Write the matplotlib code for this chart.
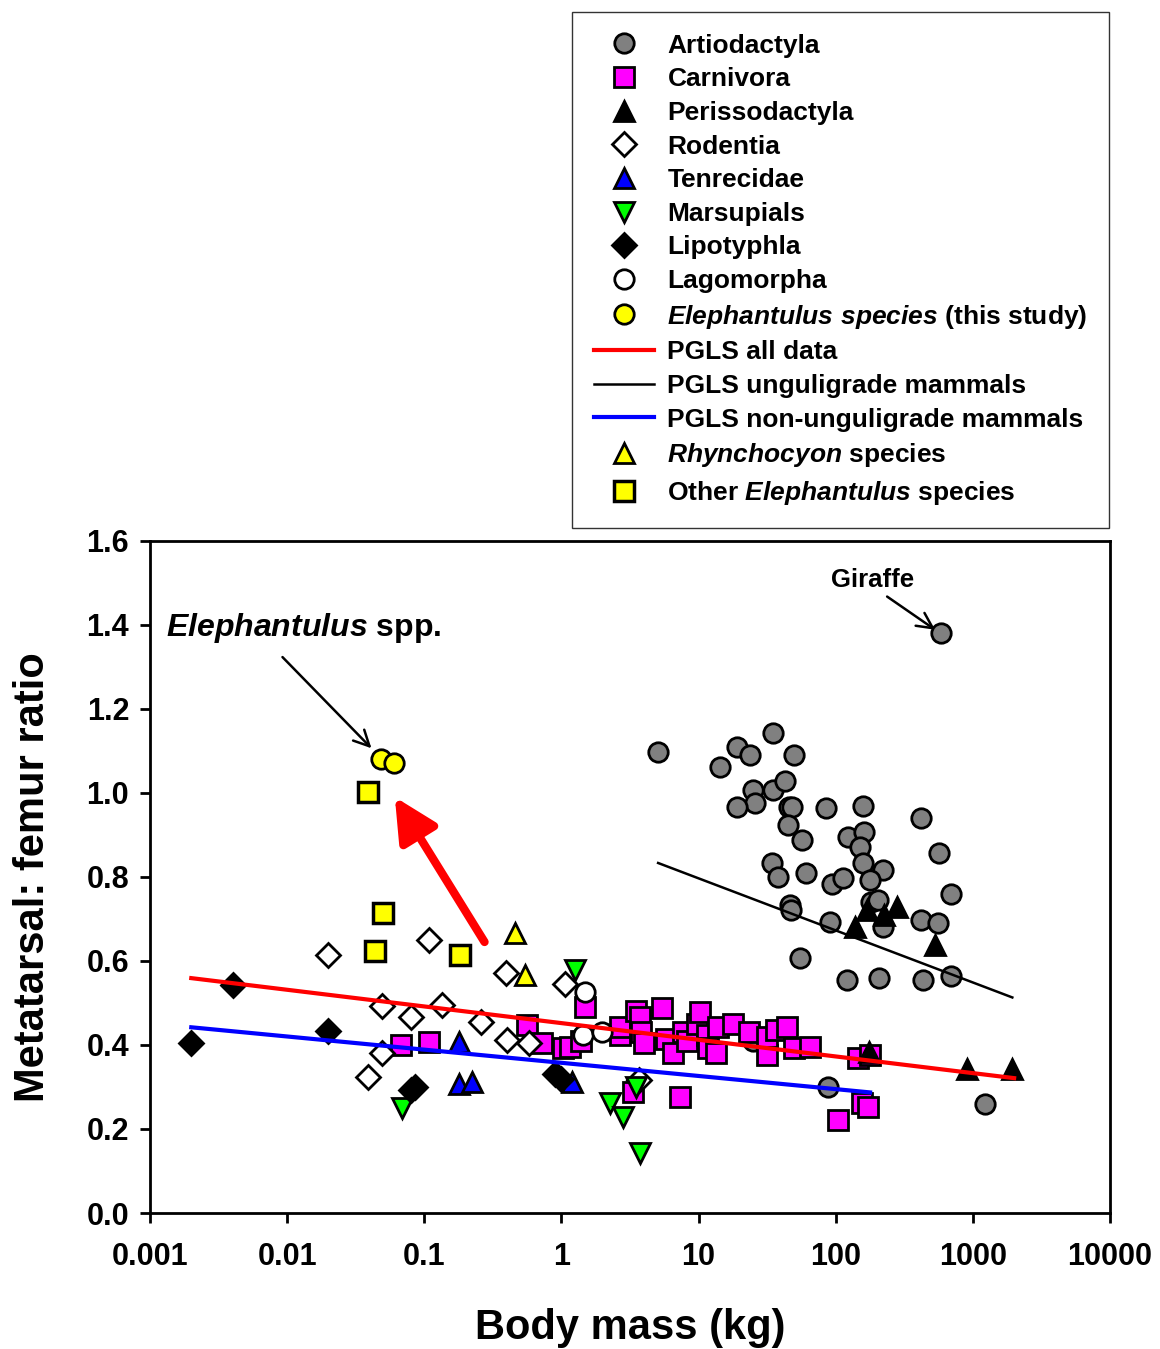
import numpy as np
import matplotlib
matplotlib.use('Agg')
import matplotlib.pyplot as plt
from matplotlib.lines import Line2D
from matplotlib.ticker import FixedLocator, FixedFormatter, NullLocator

plt.rcParams['font.family'] = ['Liberation Sans', 'DejaVu Sans']
plt.rcParams['font.weight'] = 'bold'
plt.rcParams['mathtext.fontset'] = 'custom'
plt.rcParams['mathtext.it'] = 'Liberation Sans:italic:bold'
plt.rcParams['mathtext.rm'] = 'Liberation Sans:bold'

# body mass (kg) and metatarsal:femur ratio
artio_x = [5.1, 14.3, 19, 23.7, 35, 50, 25, 26, 19, 35, 43, 46, 48, 45, 57, 85,
           159, 123, 162, 151, 159, 222, 178, 417, 566, 693, 34.5, 38, 61, 94,
           113, 46.6, 47, 91, 182, 204, 222, 417, 554, 55, 120, 208, 434, 697,
           588, 88, 1230, 25]
artio_y = [1.097, 1.062, 1.110, 1.090, 1.142, 1.090, 1.007, 0.975, 0.966, 1.007,
           1.028, 0.966, 0.966, 0.923, 0.887, 0.963, 0.968, 0.895, 0.906, 0.870,
           0.832, 0.816, 0.792, 0.939, 0.856, 0.759, 0.833, 0.800, 0.808, 0.784,
           0.797, 0.733, 0.72, 0.692, 0.740, 0.745, 0.680, 0.697, 0.690, 0.608,
           0.554, 0.559, 0.554, 0.563, 1.381, 0.299, 0.259, 0.41]

carn_x = [0.068, 0.109, 0.56, 0.72, 1.02, 1.15, 1.4, 1.48, 2.68, 2.68, 3.3, 3.5,
          3.76, 3.8, 4.0, 5.4, 5.8, 6.5, 7.3, 7.7, 8.2, 9.8, 10.2, 11.5, 11.7,
          13.5, 13.8, 17.7, 23.5, 31.7, 31.7, 37, 44, 50, 65, 104, 145, 156,
          173, 178]
carn_y = [0.399, 0.407, 0.447, 0.404, 0.392, 0.395, 0.41, 0.49, 0.423, 0.442,
          0.287, 0.48, 0.467, 0.43, 0.404, 0.487, 0.415, 0.38, 0.275, 0.43, 0.41,
          0.45, 0.478, 0.423, 0.392, 0.38, 0.442, 0.45, 0.43, 0.375, 0.418, 0.435,
          0.442, 0.392, 0.395, 0.221, 0.368, 0.261, 0.252, 0.375]

periss_x = [138, 170, 226, 280, 531, 175, 900, 1940]
periss_y = [0.680, 0.720, 0.709, 0.728, 0.637, 0.382, 0.342, 0.342]

rod_x = [0.020, 0.109, 0.049, 0.080, 0.135, 0.258, 0.393, 0.40, 0.585, 1.07,
         0.049, 0.039, 3.7]
rod_y = [0.614, 0.649, 0.492, 0.466, 0.494, 0.454, 0.571, 0.411, 0.404, 0.544,
         0.380, 0.323, 0.316]

tenrec_x = [0.18, 0.178, 0.221, 1.2]
tenrec_y = [0.407, 0.306, 0.311, 0.311]

marsup_x = [0.069, 1.25, 2.26, 2.8, 3.73, 3.5]
marsup_y = [0.251, 0.578, 0.263, 0.228, 0.144, 0.299]

lipo_x = [0.002, 0.004, 0.02, 0.08, 0.085, 0.9, 1.0]
lipo_y = [0.404, 0.542, 0.433, 0.292, 0.30, 0.33, 0.32]

lago_x = [1.48, 1.43, 1.98]
lago_y = [0.525, 0.423, 0.431]

eleph_x = [0.048, 0.060]
eleph_y = [1.080, 1.071]

rhyn_x = [0.457, 0.54]
rhyn_y = [0.666, 0.566]

other_x = [0.0386, 0.0496, 0.044, 0.181]
other_y = [1.001, 0.713, 0.623, 0.614]

# PGLS fits (end points)
pgls_all_x = [0.002, 2000]
pgls_all_y = [0.559, 0.321]
pgls_ung_x = [5.07, 1940]
pgls_ung_y = [0.833, 0.513]
pgls_non_x = [0.002, 178]
pgls_non_y = [0.442, 0.287]

xticks = [0.001, 0.01, 0.1, 1, 10, 100, 1000, 10000]
xticklabels = ['0.001', '0.01', '0.1', '1', '10', '100', '1000', '10000']
yticks = [0.0, 0.2, 0.4, 0.6, 0.8, 1.0, 1.2, 1.4, 1.6]

fig = plt.figure(figsize=(11.6, 13.49), dpi=100)
ax = fig.add_axes([0.1293, 0.1008, 0.8276, 0.4984])

ms = 14
mew = 2
groups = [
    (artio_x, artio_y, 'o', '#808080', 'Artiodactyla'),
    (carn_x, carn_y, 's', '#ff00ff', 'Carnivora'),
    (periss_x, periss_y, '^', 'black', 'Perissodactyla'),
    (rod_x, rod_y, 'D', 'white', 'Rodentia'),
    (tenrec_x, tenrec_y, '^', '#0000ff', 'Tenrecidae'),
    (marsup_x, marsup_y, 'v', '#00ff00', 'Marsupials'),
    (lipo_x, lipo_y, 'D', 'black', 'Lipotyphla'),
    (lago_x, lago_y, 'o', 'white', 'Lagomorpha'),
    (eleph_x, eleph_y, 'o', '#ffff00', r'$\it{Elephantulus\ species}$ (this study)'),
]
handles = []
for gx, gy, mk, fc, lab in groups:
    size = ms * 0.85 if mk == 'D' else ms
    ax.plot(gx, gy, linestyle='none', marker=mk, markersize=size,
            markerfacecolor=fc, markeredgecolor='black', markeredgewidth=mew, zorder=3)
    handles.append(Line2D([], [], linestyle='none', marker=mk, markersize=size,
                          markerfacecolor=fc, markeredgecolor='black',
                          markeredgewidth=mew, label=lab))

ax.plot(rhyn_x, rhyn_y, linestyle='none', marker='^', markersize=ms,
        markerfacecolor='#ffff00', markeredgecolor='black', markeredgewidth=mew, zorder=3)
ax.plot(other_x, other_y, linestyle='none', marker='s', markersize=ms,
        markerfacecolor='#ffff00', markeredgecolor='black', markeredgewidth=mew + 0.5, zorder=3)

ax.plot(pgls_all_x, pgls_all_y, color='red', lw=3, zorder=4)
ax.plot(pgls_ung_x, pgls_ung_y, color='black', lw=1.8, zorder=4)
ax.plot(pgls_non_x, pgls_non_y, color='#0000ff', lw=3, zorder=4)

handles.append(Line2D([], [], color='red', lw=3, label='PGLS all data'))
handles.append(Line2D([], [], color='black', lw=1.8, label='PGLS unguligrade mammals'))
handles.append(Line2D([], [], color='#0000ff', lw=3, label='PGLS non-unguligrade mammals'))
handles.append(Line2D([], [], linestyle='none', marker='^', markersize=ms,
                      markerfacecolor='#ffff00', markeredgecolor='black',
                      markeredgewidth=mew, label=r'$\it{Rhynchocyon}$ species'))
handles.append(Line2D([], [], linestyle='none', marker='s', markersize=ms,
                      markerfacecolor='#ffff00', markeredgecolor='black',
                      markeredgewidth=mew + 0.5, label=r'Other $\it{Elephantulus}$ species'))

# annotations
ax.annotate('', xy=(0.061, 0.99), xytext=(0.275, 0.645),
            arrowprops=dict(arrowstyle='-|>', color='red', lw=6, mutation_scale=65,
                            shrinkA=0, shrinkB=0), zorder=5)
ax.annotate('', xy=(0.0412, 1.106), xytext=(0.00925, 1.323),
            arrowprops=dict(arrowstyle='->', color='black', lw=1.8, mutation_scale=28,
                            shrinkA=0, shrinkB=0), zorder=5)
ax.text(0.00131, 1.392, r'$\it{Elephantulus}$ spp.', fontsize=23, fontweight='bold',
        ha='left', va='center')
ax.annotate('', xy=(531, 1.388), xytext=(237, 1.467),
            arrowprops=dict(arrowstyle='->', color='black', lw=1.8, mutation_scale=28,
                            shrinkA=0, shrinkB=0), zorder=5)
ax.text(187, 1.506, 'Giraffe', fontsize=18.5, fontweight='bold', ha='center', va='center')

ax.set_xscale('log')
ax.set_xlim(0.001, 10000)
ax.set_ylim(0, 1.6)
ax.xaxis.set_major_locator(FixedLocator(xticks))
ax.xaxis.set_major_formatter(FixedFormatter(xticklabels))
ax.xaxis.set_minor_locator(NullLocator())
ax.set_yticks(yticks)
ax.set_yticklabels([f'{v:.1f}' for v in yticks])
ax.tick_params(axis='both', which='major', direction='out', length=7, width=2,
               labelsize=22, pad=8)
ax.tick_params(axis='x', pad=14)
for sp in ax.spines.values():
    sp.set_linewidth(2)
ax.set_xlabel('Body mass (kg)', fontsize=30, fontweight='bold', labelpad=26)
ax.set_ylabel('Metatarsal: femur ratio', fontsize=30, fontweight='bold', labelpad=24)

leg = fig.legend(handles=handles, loc='upper left', bbox_to_anchor=(0.493, 0.9911),
                 borderaxespad=0, frameon=True, fancybox=False, edgecolor='black',
                 handlelength=2.3, handletextpad=0.5, borderpad=0.82,
                 labelspacing=0.365, prop={'weight': 'bold', 'size': 19})
leg.get_frame().set_linewidth(1)

fig.savefig('out.png', dpi=100)
